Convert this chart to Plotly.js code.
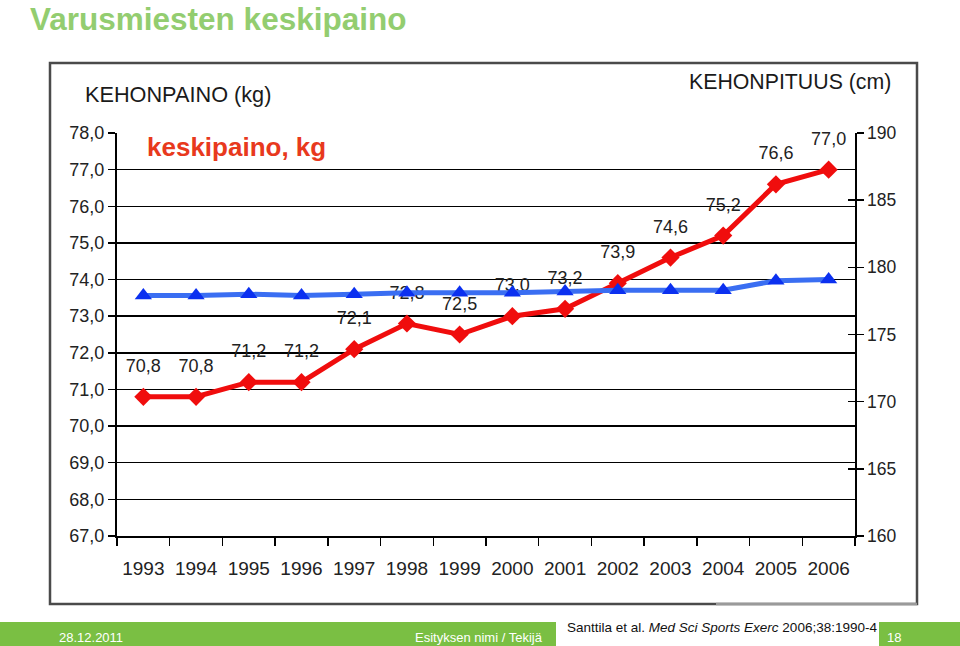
<!DOCTYPE html>
<html><head><meta charset="utf-8">
<script src="https://cdn.plot.ly/plotly-3.0.1.min.js"></script>
<style>html,body{margin:0;padding:0;background:#fff}#chart{width:960px;height:646px}</style>
</head><body><div id="chart"></div>
<script>
// ---- data ----
const years = ['1993','1994','1995','1996','1997','1998','1999','2000','2001','2002','2003','2004','2005','2006'];
const weightKg = [70.8,70.8,71.2,71.2,72.1,72.8,72.5,73.0,73.2,73.9,74.6,75.2,76.6,77.0];
const heightCm = [177.9,177.9,178.0,177.9,178.0,178.1,178.1,178.1,178.2,178.3,178.3,178.3,179.0,179.1];
const weightTicks = [67,68,69,70,71,72,73,74,75,76,77,78];
const weightGrid = [67,68,69,70,71,72,73,74,75,76,77];
const heightTicks = [160,165,170,175,180,185,190];

// ---- layout helpers (pixel -> paper) ----
const W = 960, H = 646, L = 117, R = 855, T = 133, B = 536;
const px = x => (x - L) / (R - L);
const py = y => (B - y) / (B - T);
const FONT = 'Liberation Sans, Arial, sans-serif';

const weightText = weightKg.map(v => v.toFixed(1).replace('.', ','));

const traces = [
  {x: [], y: [], type: 'scatter', mode: 'markers', yaxis: 'y3', hoverinfo: 'skip'},
  {x: years, y: weightKg, type: 'scatter', mode: 'lines+markers', yaxis: 'y',
   line: {color: '#f00d0d', width: 5}, marker: {symbol: 'diamond', size: 14, color: '#f00d0d'},
   cliponaxis: false, hoverinfo: 'skip'},
  {x: years, y: weightKg, type: 'scatter', mode: 'markers+text', yaxis: 'y',
   text: weightText, textposition: 'top center',
   textfont: {family: FONT, size: 18, color: '#222'},
   marker: {size: 31, color: 'rgba(0,0,0,0)'}, cliponaxis: false, hoverinfo: 'skip'},
  {x: years, y: heightCm, type: 'scatter', mode: 'lines+markers', yaxis: 'y2',
   line: {color: '#3a6ef2', width: 5}, marker: {symbol: 'triangle-up', size: 15, color: '#0b30f0'},
   cliponaxis: false, hoverinfo: 'skip'},
  {x: [], y: [], type: 'scatter', mode: 'markers', yaxis: 'y4', hoverinfo: 'skip'}
];

const layout = {
  width: W, height: H,
  margin: {l: L, r: W - R, t: T, b: H - B, pad: 0},
  paper_bgcolor: '#fff', plot_bgcolor: '#fff',
  separators: ', ',
  showlegend: false,
  font: {family: FONT, color: '#222'},
  xaxis: {type: 'category', categoryorder: 'array', categoryarray: years,
    range: [-0.5, years.length - 0.5], tickson: 'boundaries',
    ticks: 'outside', ticklen: 8, tickwidth: 1.5, tickcolor: '#000', ticklabelstandoff: 14,
    showline: true, linecolor: '#000', linewidth: 2, showgrid: false, zeroline: false,
    tickfont: {family: FONT, size: 19, color: '#222'}},
  yaxis: {range: [67, 78], tickvals: weightTicks, tickformat: '.1f',
    ticks: 'outside', ticklen: 7, tickwidth: 1.5, tickcolor: '#000',
    showline: true, linecolor: '#000', linewidth: 2, showgrid: false, zeroline: false,
    tickfont: {family: FONT, size: 18, color: '#222'}},
  yaxis2: {overlaying: 'y', side: 'right', range: [160, 190], tickvals: heightTicks,
    ticks: 'outside', ticklen: 7, tickwidth: 1.5, tickcolor: '#000',
    showline: true, linecolor: '#000', linewidth: 1.5, showgrid: false, zeroline: false,
    tickfont: {family: FONT, size: 17.5, color: '#222'}},
  yaxis3: {overlaying: 'y', range: [67, 78], tickvals: weightGrid, showticklabels: false,
    ticks: '', showgrid: true, gridcolor: '#000', gridwidth: 1.5, showline: false, zeroline: false},
  yaxis4: {overlaying: 'y', side: 'right', range: [160, 190], tickvals: heightTicks,
    showticklabels: false, ticks: 'inside', ticklen: 7, tickwidth: 1.5, tickcolor: '#000',
    showgrid: false, showline: false, zeroline: false},
  shapes: [
    {type: 'rect', xref: 'paper', yref: 'paper', x0: px(50), x1: px(917), y0: py(604), y1: py(63),
     line: {color: '#4a4a4a', width: 2.5}, fillcolor: 'rgba(0,0,0,0)', layer: 'above'},
    {type: 'line', xref: 'paper', yref: 'paper', x0: px(716), x1: px(917), y0: py(604), y1: py(604),
     line: {color: '#9a9a9a', width: 2.5}, layer: 'above'},
    {type: 'rect', xref: 'paper', yref: 'paper', x0: px(0), x1: px(960), y0: py(646), y1: py(622),
     line: {width: 0}, fillcolor: '#7abf43', layer: 'above'},
    {type: 'rect', xref: 'paper', yref: 'paper', x0: px(556), x1: px(879), y0: py(646), y1: py(613),
     line: {width: 0}, fillcolor: '#ffffff', layer: 'above'}
  ],
  annotations: [
    {text: '<b>Varusmiesten keskipaino</b>', xref: 'paper', yref: 'paper', x: px(29), y: py(0),
     xanchor: 'left', yanchor: 'top', showarrow: false, borderpad: 0,
     font: {family: FONT, size: 31.5, color: '#93cd70'}},
    {text: 'KEHONPAINO (kg)', xref: 'paper', yref: 'paper', x: px(83), y: py(94),
     xanchor: 'left', yanchor: 'middle', showarrow: false, font: {family: FONT, size: 21.7, color: '#1a1a1a'}},
    {text: 'KEHONPITUUS (cm)', xref: 'paper', yref: 'paper', x: px(893), y: py(82),
     xanchor: 'right', yanchor: 'middle', showarrow: false, font: {family: FONT, size: 21.3, color: '#1a1a1a'}},
    {text: '<b>keskipaino, kg</b>', xref: 'paper', yref: 'paper', x: px(145), y: py(147),
     xanchor: 'left', yanchor: 'middle', showarrow: false, font: {family: FONT, size: 26, color: '#e8391d'}},
    {text: '28.12.2011', xref: 'paper', yref: 'paper', x: px(57), y: py(637),
     xanchor: 'left', yanchor: 'middle', showarrow: false, font: {family: FONT, size: 13, color: '#ffffff'}},
    {text: 'Esityksen nimi / Tekijä', xref: 'paper', yref: 'paper', x: px(545), y: py(637),
     xanchor: 'right', yanchor: 'middle', showarrow: false, font: {family: FONT, size: 13, color: '#ffffff'}},
    {text: '18', xref: 'paper', yref: 'paper', x: px(894), y: py(637),
     xanchor: 'center', yanchor: 'middle', showarrow: false, font: {family: FONT, size: 13, color: '#ffffff'}},
    {text: 'Santtila et al. <i>Med Sci Sports Exerc</i> 2006;38:1990-4', xref: 'paper', yref: 'paper',
     x: px(565), y: py(627), xanchor: 'left', yanchor: 'middle', showarrow: false,
     font: {family: FONT, size: 13.5, color: '#111'}}
  ]
};

Plotly.newPlot('chart', traces, layout, {staticPlot: true, displayModeBar: false});
</script>
</body></html>
